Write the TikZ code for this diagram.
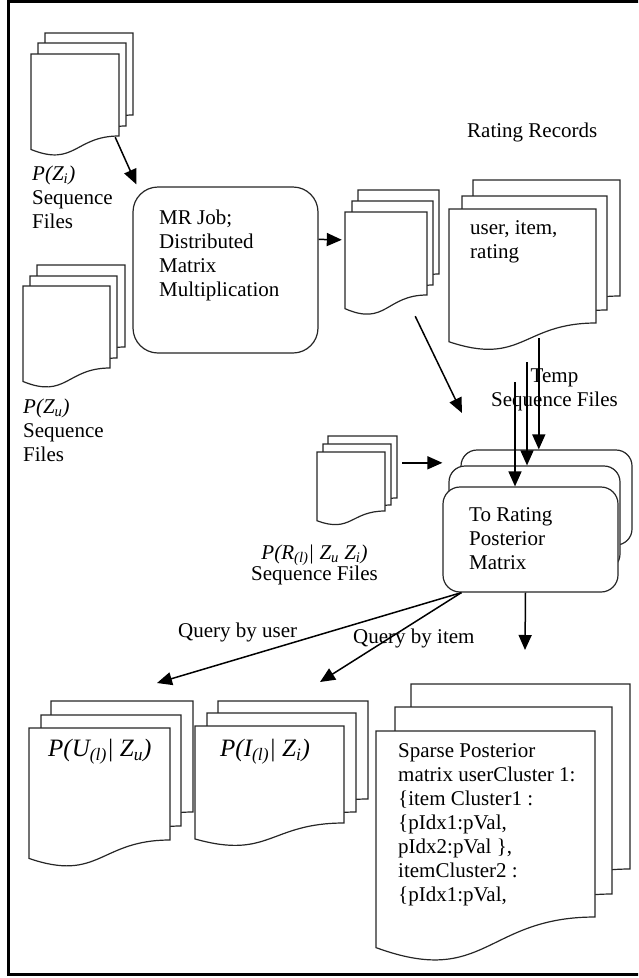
\documentclass[tikz,border=0pt]{standalone}
\usepackage{fontspec}
\setmainfont{Liberation Serif}
\usetikzlibrary{arrows.meta,calc,fit}

% One page with a wavy bottom: left x, top y, right x, y of the right bottom corner
\newcommand\docsheet[4]{%
  \pgfmathsetmacro\shH{(#4-#2)/0.802}%
  \pgfmathsetmacro\shM{(#1+#3)/2}%
  \pgfmathsetmacro\shL{#2+1.107*\shH}%
  \pgfmathsetmacro\shE{#2+0.934*\shH}%
  \draw[sheet] (#1,#2) -- (#3,#2) -- (#3,#4)
    .. controls (\shM,#4) and (\shM,\shL) .. (#1,\shE) -- cycle;
}

\begin{document}
\begin{tikzpicture}[x=1pt,y=-1pt,
  sheet/.style={draw=black!85, line width=1.2pt, fill=white},
  frontarea/.style={inner sep=0pt, draw=none},
  flowbox/.style={draw=black!85, line width=1.2pt, fill=white, inner sep=0pt},
  arr/.style={line width=1.5pt, -{Triangle[length=15pt,width=13pt]}},
  lbl/.style={inner sep=0pt, font=\fontsize{21}{24}\selectfont, align=left},
  biglbl/.style={inner sep=0pt, font=\fontsize{25}{28}\selectfont\itshape},
]
\useasboundingbox (0,0) rectangle (638,978);
\clip (0,0) rectangle (638,978);

% outer frame
\draw[line width=3pt] (8.5,1.5) rectangle (660,974);

% P(Z_i) sequence files
\docsheet{45}{33}{133}{115}
\docsheet{38}{43}{126}{126}
\docsheet{31}{54}{119}{136}
\node[frontarea, fit={(31,54) (119,136)}] (zi) {};

% P(Z_u) sequence files
\docsheet{37}{265}{125}{347}
\docsheet{30}{276}{117}{358}
\docsheet{23}{286}{110}{368}
\node[frontarea, fit={(23,286) (110,368)}] (zu) {};

% MR job
\node[flowbox, rounded corners=25pt, fit={(133,187) (318,353)}] (mr) {};

% intermediate product files
\docsheet{358}{190}{439}{274}
\docsheet{352}{201}{433}{285}
\docsheet{345}{212}{427}{295}
\node[frontarea, fit={(345,212) (427,295)}] (cc) {};

% rating records
\docsheet{473}{180}{620}{296}
\docsheet{462}{196}{607}{310}
\docsheet{449}{209}{596}{323}
\node[frontarea, fit={(449,209) (596,323)}] (rr) {};

% P(R|Zu Zi) sequence files
\docsheet{328}{436}{397}{498}
\docsheet{323}{444}{391}{505}
\docsheet{317}{452}{385}{511}
\node[frontarea, fit={(317,452) (385,511)}] (ee) {};

% to rating posterior matrix jobs
\node[flowbox, rounded corners=16pt, fit={(461,450) (632,545)}] (tb) {};
\node[flowbox, rounded corners=16pt, fit={(449,466) (620,570)}] (tm) {};
\node[flowbox, rounded corners=17pt, fit={(443,487) (618,592)}] (tf) {};

% P(U|Zu)
\docsheet{51}{701}{193}{812}
\docsheet{41}{715}{181}{826}
\docsheet{29}{728}{170}{840}
\node[frontarea, fit={(29,728) (170,840)}] (pu) {};

% P(I|Zi)
\docsheet{218}{701}{368}{799}
\docsheet{207}{713}{356}{812}
\docsheet{195}{726}{344}{823}
\node[frontarea, fit={(195,726) (344,823)}] (pi) {};

% sparse posterior matrix
\docsheet{411}{684}{630}{869}
\docsheet{395}{707}{612}{894}
\docsheet{376}{731}{595}{917}
\node[frontarea, fit={(376,731) (595,917)}] (sp) {};

% labels
\node[lbl, anchor=west] (zitxt) at (32,197) {\textit{P(Z\textsubscript{i})}\\Sequence\\Files};
\node[lbl, anchor=west] (zutxt) at (23,430) {\textit{P(Z\textsubscript{u})}\\Sequence\\Files};
\node[lbl, anchor=west] (mrtxt) at (159,255) {MR Job;\\Distributed\\Matrix\\Multiplication};
\node[lbl, anchor=west] (rrhead) at (467,132) {Rating Records};
\node[lbl, anchor=west] (rrtxt) at (470,242) {user, item,\\rating};
\node[lbl, align=center] (temptxt) at (554.5,390) {Temp\\Sequence Files};
\node[lbl, align=center, font=\fontsize{21}{20}\selectfont] (eetxt) at (314.5,565)
  {\textit{P(R\textsubscript{(l)}| Z\textsubscript{u} Z\textsubscript{i})}\\Sequence Files};
\node[lbl, anchor=west] (tftxt) at (469,539) {To Rating\\Posterior\\Matrix};
\node[biglbl, anchor=west] (putxt) at (48,752) {P(U\textsubscript{(l)}| Z\textsubscript{u})};
\node[biglbl, anchor=west] (pitxt) at (220,752) {P(I\textsubscript{(l)}| Z\textsubscript{i})};
\node[lbl, anchor=west] (sptxt) at (398,825) {Sparse Posterior\\matrix userCluster 1:\\\{item Cluster1 :\\\{pIdx1:pVal,\\pIdx2:pVal \},\\itemCluster2 :\\\{pIdx1:pVal,};
\node[lbl, anchor=west] (qu) at (178,632) {Query by user};
\node[lbl, anchor=west] (qi) at (353,638) {Query by item};

% free ends of connectors
\coordinate (ccend) at (462,413);
\coordinate (d2) at (527,362);
\coordinate (d3) at (515,382);
\coordinate (tfdown) at (525,650);
\coordinate (quend) at (157,683);
\coordinate (qiend) at (320,682);

% connectors
\draw[arr] ($(zi.south east)+(-4,1)$) -- ($(mr.north west)+(4,-2)$);
\draw[arr] ($(mr.north east)+(0,53)$) -- ($(cc.north west)+(-3,28)$);
\draw[arr] ($(cc.south east)+(-12,21)$) -- (ccend);
\coordinate (d1) at ($(rr.south west)+(90,15)$);
\draw[arr] (d1) -- (d1 |- tb.north);
\draw[arr] (d2) -- (d2 |- tm.north);
\draw[arr] (d3) -- (d3 |- tf.north);
\coordinate (e1) at ($(ee.north east)+(17,11)$);
\draw[arr] (e1) -- (e1 -| tf.west);
\draw[arr] ($(tf.south)+(-5,0)$) -- (tfdown);
\draw[arr] ($(tf.south west)+(19,0)$) -- (quend);
\draw[arr] ($(tf.south west)+(19,0)$) -- (qiend);
\end{tikzpicture}
\end{document}
